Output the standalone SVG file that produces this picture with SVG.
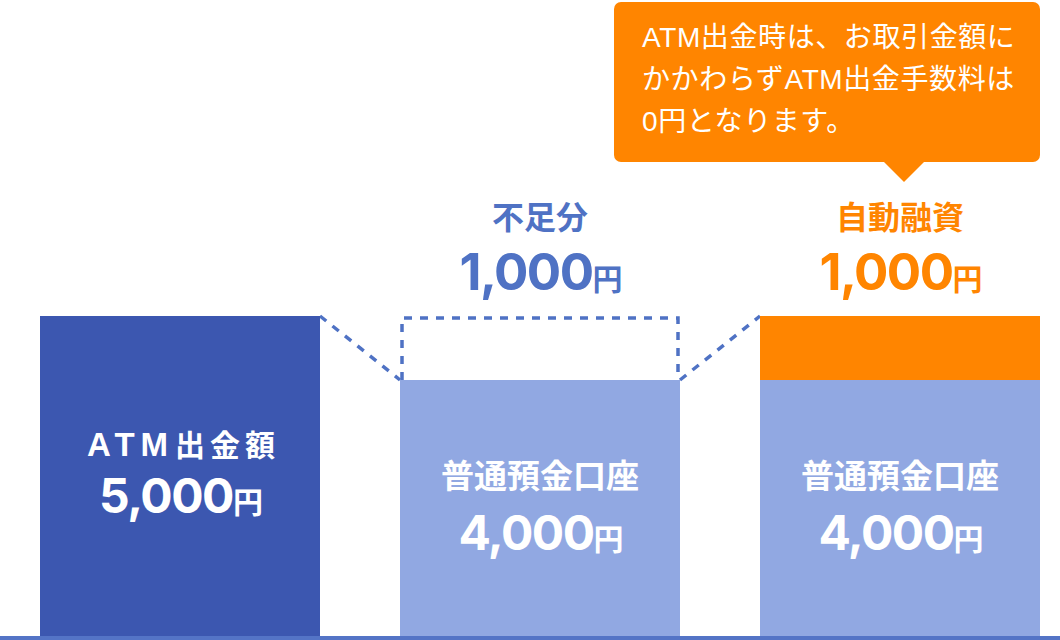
<svg xmlns="http://www.w3.org/2000/svg" width="1060" height="640" viewBox="0 0 1060 640">
<style>
.t{font-family:"Liberation Sans","Noto Sans CJK JP",sans-serif;font-weight:bold;text-anchor:middle}
.s{text-anchor:start}
.w{fill:#ffffff}
.b{fill:#4f72c4}
.o{fill:#ff8500}
.big{font-family:Inter,"Liberation Sans",sans-serif;font-size:48px;letter-spacing:-1.5px}
.big2{font-family:Inter,"Liberation Sans",sans-serif;font-size:51px;letter-spacing:-1.5px}
.yen{font-family:"Noto Sans CJK JP",sans-serif;font-size:30px;letter-spacing:0}
.dash{fill:none;stroke:#4f72c4;stroke-width:3.5;stroke-dasharray:8 8}
.note{font-family:"Liberation Sans","Noto Sans CJK JP",sans-serif;font-size:28px;letter-spacing:0.6px;fill:#ffffff}
</style>
<rect width="1060" height="640" fill="#ffffff"/>
<g id="connectors">
<path class="dash" d="M320 316 L400 380"/>
<path class="dash" d="M680 380 L760 316"/>
</g>
<g id="atm">
<rect x="40" y="316" width="280" height="320" fill="#3c57b0"/>
<text class="t w s" x="87" y="456" font-size="33" letter-spacing="6">ATM</text>
<text class="t w s" x="175" y="456" font-size="30" letter-spacing="5">出金額</text>
<text class="t w" x="181" y="513"><tspan class="big">5,000</tspan><tspan class="yen">円</tspan></text>
</g>
<g id="shortage">
<rect x="400" y="380" width="280" height="256" fill="#91a8e2"/>
<path class="dash" d="M402 380 V318 H678 V380"/>
<text class="t b" x="540" y="229" font-size="32">不足分</text>
<text class="t b" x="541" y="290"><tspan class="big2">1,000</tspan><tspan class="yen">円</tspan></text>
<text class="t w" x="540" y="488" font-size="33">普通預金口座</text>
<text class="t w" x="541" y="550"><tspan class="big">4,000</tspan><tspan class="yen">円</tspan></text>
</g>
<g id="loan">
<rect x="760" y="316" width="280" height="64" fill="#ff8500"/>
<rect x="760" y="380" width="280" height="256" fill="#91a8e2"/>
<text class="t o" x="900" y="229" font-size="32">自動融資</text>
<text class="t o" x="901" y="290"><tspan class="big2">1,000</tspan><tspan class="yen">円</tspan></text>
<text class="t w" x="900" y="488" font-size="33">普通預金口座</text>
<text class="t w" x="901" y="550"><tspan class="big">4,000</tspan><tspan class="yen">円</tspan></text>
</g>
<g id="callout">
<rect x="614" y="2" width="426" height="160" rx="7" fill="#ff8500"/>
<path d="M883 161 L904 182 L925 161 Z" fill="#ff8500"/>
<text class="note" x="642" y="47">ATM出金時は、お取引金額に</text>
<text class="note" x="642" y="89">かかわらずATM出金手数料は</text>
<text class="note" x="642" y="131">0円となります。</text>
</g>
<rect id="baseline" x="0" y="636" width="1060" height="4" fill="#5474c6"/>
</svg>
